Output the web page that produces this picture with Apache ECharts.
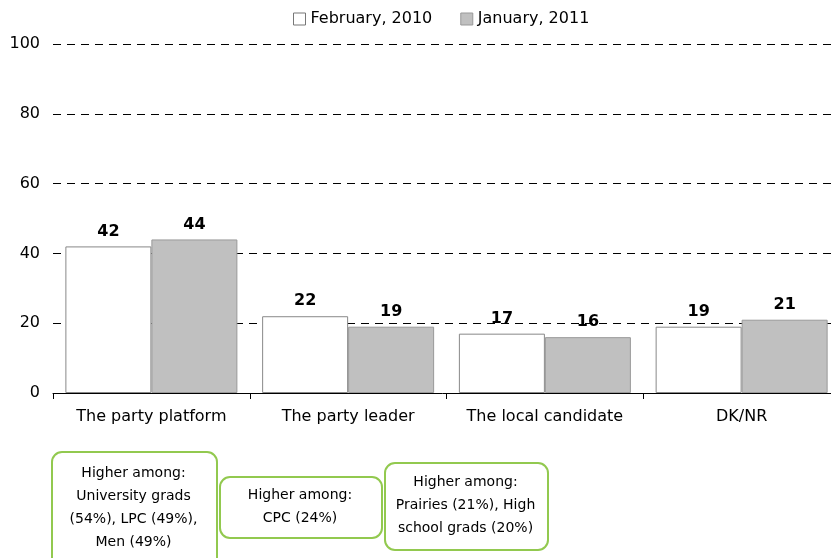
<!DOCTYPE html>
<html><head><meta charset="utf-8">
<script src="https://cdn.jsdelivr.net/npm/echarts@6/dist/echarts.min.js"></script>
<style>html,body{margin:0;padding:0;background:#fff}#c{width:831px;height:558px}</style>
</head><body><div id="c"></div>
<script>
const categories = ["The party platform", "The party leader", "The local candidate", "DK/NR"];
const feb2010 = [42, 22, 17, 19];
const jan2011 = [44, 19, 16, 21];
const seriesNames = ["February, 2010", "January, 2011"];
const notes = [
  "Higher among:\nUniversity grads\n(54%), LPC (49%),\nMen (49%)",
  "Higher among:\nCPC (24%)",
  "Higher among:\nPrairies (21%), High\nschool grads (20%)"
];
const FONT = "DejaVu Sans";
const chart = echarts.init(document.getElementById('c'));
const noteBoxes = [
  {x: 51, y: 451, w: 165, h: 120},
  {x: 219, y: 476, w: 162, h: 61},
  {x: 384, y: 462, w: 163, h: 87}
];
const graphics = [];
noteBoxes.forEach((b, i) => {
  graphics.push({type: 'rect', left: b.x, top: b.y, shape: {width: b.w, height: b.h, r: 10},
    style: {fill: '#fff', stroke: '#92c94f', lineWidth: 2}});
  graphics.push({type: 'text', x: b.x + b.w / 2, y: (i === 0 ? b.y + 11 : b.y + b.h / 2),
    style: {text: notes[i], fill: '#000', font: '14px "' + FONT + '"', align: 'center',
      verticalAlign: i === 0 ? 'top' : 'middle', lineHeight: 23}});
});
const labelStyle = {show: true, position: 'top', distance: 7, color: '#000', fontFamily: FONT, fontSize: 16, fontWeight: 'bold'};
chart.setOption({
  animation: false,
  textStyle: {fontFamily: FONT},
  legend: {top: 6, left: 288, itemWidth: 12, itemHeight: 12, itemGap: 28, icon: 'rect',
    textStyle: {fontFamily: FONT, fontSize: 16, color: '#000', padding: [0, 0, 0, 0]},
    data: [{name: seriesNames[0], itemStyle: {color: '#fff', borderColor: '#777', borderWidth: 1}},
           {name: seriesNames[1], itemStyle: {color: '#c0c0c0', borderColor: '#999', borderWidth: 1}}]},
  grid: {left: 53, top: 44, width: 787, height: 349, containLabel: false, outerBoundsMode: 'none'},
  xAxis: {type: 'category', data: categories,
    axisLine: {lineStyle: {color: '#000', width: 1}},
    axisTick: {show: true, length: 6, interval: 0, inside: false, lineStyle: {color: '#000'}},
    axisLabel: {color: '#000', fontFamily: FONT, fontSize: 16, margin: 16, interval: 0, hideOverlap: false}},
  yAxis: {type: 'value', min: 0, max: 100, interval: 20,
    axisLine: {show: false}, axisTick: {show: false},
    axisLabel: {color: '#000', fontFamily: FONT, fontSize: 16, margin: 13},
    splitLine: {show: true, lineStyle: {color: '#000', type: [8, 6], width: 1}}},
  series: [
    {name: seriesNames[0], type: 'bar', data: feb2010, barWidth: 86, barGap: '0%',
     itemStyle: {color: '#fff', borderColor: '#888', borderWidth: 1}, label: labelStyle, z: 1},
    {name: seriesNames[1], type: 'bar', data: jan2011, barWidth: 86, barGap: '0%',
     itemStyle: {color: '#c0c0c0', borderColor: '#999', borderWidth: 1}, label: labelStyle, z: 1}
  ],
  graphic: graphics
});
</script></body></html>
